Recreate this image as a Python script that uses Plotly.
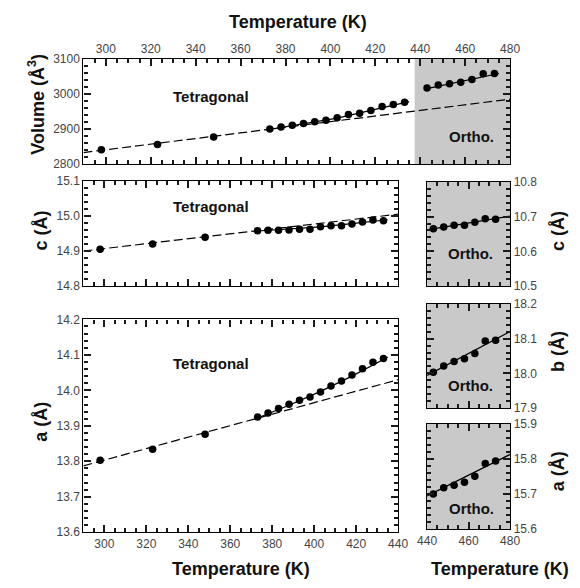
import plotly.graph_objects as go

# ---------------- data ----------------
T_tet = [298, 323, 348, 373, 378, 383, 388, 393, 398, 403, 408, 413, 418, 423, 428, 433]
V_tet = [2841, 2856, 2877, 2900, 2906, 2911, 2916, 2921, 2925, 2932, 2941, 2945, 2953, 2964, 2970, 2976]
c_tet = [14.905, 14.920, 14.939, 14.958, 14.959, 14.959, 14.960, 14.962, 14.962, 14.969,
         14.972, 14.972, 14.977, 14.983, 14.988, 14.986]
a_tet = [13.803, 13.834, 13.876, 13.925, 13.936, 13.949, 13.961, 13.972, 13.981, 13.995,
         14.012, 14.026, 14.043, 14.061, 14.079, 14.090]

T_ort = [443, 448, 453, 458, 463, 468, 473]
V_ort = [3017, 3025, 3029, 3033, 3041, 3057, 3058]
c_ort = [10.665, 10.670, 10.675, 10.675, 10.684, 10.694, 10.692]
b_ort = [18.003, 18.021, 18.034, 18.042, 18.057, 18.093, 18.095]
a_ort = [15.700, 15.718, 15.725, 15.734, 15.751, 15.787, 15.794]

# extrapolated (dashed) tetragonal fits
T_dash_V = [290, 480]
V_dash = [2833, 2985]
T_dash_tet = [290, 440]
c_dash = [14.900, 15.005]
a_dash = [13.787, 14.030]

# solid fits
T_fit_tet = [373, 388, 403, 418, 435]
V_fit_tet = [2899, 2915, 2931, 2953, 2978]
c_fit_tet = [14.957, 14.962, 14.969, 14.978, 14.989]
a_fit_tet = [13.922, 13.958, 13.997, 14.040, 14.093]
T_fit_Vort = [443, 475]
V_fit_ort = [3015, 3058]
T_fit_ort = [440, 480]
c_fit_ort = [10.662, 10.701]
b_fit_ort = [17.994, 18.120]
a_fit_ort = [15.695, 15.813]

ortho_T_range = [437.5, 480]

# ---------------- figure ----------------
W, H = 580, 588
FONT = "Liberation Sans, Arial, sans-serif"
GRAY = "#c9c9c9"

def px_x(a, b):
    return [a / W, b / W]

def px_y(top, bottom):
    return [1 - bottom / H, 1 - top / H]

fig = go.Figure()

mk = dict(color="black", size=7.5)
dash_line = dict(color="black", width=1.2, dash="9px,4px")
solid_line = dict(color="black", width=1.2)

def add(x, y, xa, ya, mode, line=None):
    fig.add_trace(go.Scatter(x=x, y=y, xaxis=xa, yaxis=ya, mode=mode,
                             marker=mk, line=line or solid_line,
                             showlegend=False, hoverinfo="skip"))

# top panel: volume
add(T_dash_V, V_dash, "x", "y", "lines", dash_line)
add(T_fit_tet, V_fit_tet, "x", "y", "lines")
add(T_tet, V_tet, "x", "y", "markers")
add(T_fit_Vort, V_fit_ort, "x", "y", "lines")
add(T_ort, V_ort, "x", "y", "markers")
# c tetragonal
add(T_dash_tet, c_dash, "x2", "y2", "lines", dash_line)
add(T_fit_tet, c_fit_tet, "x2", "y2", "lines")
add(T_tet, c_tet, "x2", "y2", "markers")
# a tetragonal
add(T_dash_tet, a_dash, "x3", "y3", "lines", dash_line)
add(T_fit_tet, a_fit_tet, "x3", "y3", "lines")
add(T_tet, a_tet, "x3", "y3", "markers")
# ortho c, b, a
add(T_fit_ort, c_fit_ort, "x4", "y4", "lines")
add(T_ort, c_ort, "x4", "y4", "markers")
add(T_fit_ort, b_fit_ort, "x5", "y5", "lines")
add(T_ort, b_ort, "x5", "y5", "markers")
add(T_fit_ort, a_fit_ort, "x6", "y6", "lines")
add(T_ort, a_ort, "x6", "y6", "markers")

tickfont = dict(family=FONT, size=12, color="#444")
TC = "#1a1a1a"

def xax(dom, rng, anchor, labels, side="bottom"):
    return dict(domain=dom, range=rng, anchor=anchor, side=side,
                dtick=20, tick0=300,
                ticks="inside", ticklen=7, tickwidth=1.5, tickcolor=TC,
                minor=dict(ticks="inside", ticklen=4, dtick=5, tickcolor=TC),
                showticklabels=labels, tickfont=tickfont,
                showline=True, linecolor="black", linewidth=1.3, mirror="ticks",
                showgrid=False, zeroline=False)

def yax(dom, rng, anchor, dt, mdt, fmt, side="left"):
    return dict(domain=dom, range=rng, anchor=anchor, side=side,
                dtick=dt, tickformat=fmt,
                ticks="inside", ticklen=7, tickwidth=1.5, tickcolor=TC,
                minor=dict(ticks="inside", ticklen=4, dtick=mdt, tickcolor=TC),
                tickfont=tickfont,
                showline=True, linecolor="black", linewidth=1.3, mirror="ticks",
                showgrid=False, zeroline=False)

XL = px_x(76, 518)
XM = px_x(76, 402)
XR = px_x(432, 518)

fig.update_layout(
    width=W, height=H, margin=dict(l=0, r=0, t=0, b=0),
    paper_bgcolor="white", plot_bgcolor="white",
    font=dict(family=FONT, color="black"),
    xaxis=xax(XL, [290, 480], "y", True, side="top"),
    yaxis=yax(px_y(53, 161), [2800, 3100], "x", 100, 20, "d"),
    xaxis2=xax(XM, [290, 440], "y2", False),
    yaxis2=yax(px_y(178, 286), [14.8, 15.1], "x2", 0.1, 0.02, ".1f"),
    xaxis3=xax(XM, [290, 440], "y3", True),
    yaxis3=yax(px_y(320, 538), [13.6, 14.2], "x3", 0.1, 0.02, ".1f"),
    xaxis4=xax(XR, [440, 480], "y4", False),
    yaxis4=yax(px_y(179, 286), [10.5, 10.8], "x4", 0.1, 0.02, ".1f", side="right"),
    xaxis5=xax(XR, [440, 480], "y5", False),
    yaxis5=yax(px_y(304, 411), [17.9, 18.2], "x5", 0.1, 0.02, ".1f", side="right"),
    xaxis6=xax(XR, [440, 480], "y6", True),
    yaxis6=yax(px_y(427, 535), [15.6, 15.9], "x6", 0.1, 0.02, ".1f", side="right"),
)

# gray ortho backgrounds
fig.add_shape(type="rect", xref="x", yref="y domain", x0=ortho_T_range[0], x1=ortho_T_range[1],
              y0=0, y1=1, fillcolor=GRAY, line_width=0, layer="below")
for k in ("x4", "x5", "x6"):
    yk = "y" + k[1:]
    fig.add_shape(type="rect", xref=k + " domain", yref=yk + " domain", x0=0, x1=1, y0=0, y1=1,
                  fillcolor=GRAY, line_width=0, layer="below")

def ann(text, x, y, size, angle=0):
    fig.add_annotation(text="<b>%s</b>" % text,
                       x=x / W, y=1 - y / H, xref="paper", yref="paper",
                       showarrow=False, textangle=angle,
                       font=dict(family=FONT, size=size, color="#111"),
                       xanchor="center", yanchor="middle")

ann("Temperature (K)", 298, 15, 18)
ann("Temperature (K)", 239, 576, 18)
ann("Temperature (K)", 507, 576, 18)
ann("Volume (Å<sup>3</sup>)", 28, 100, 18, -90)
ann("c (Å)", 32, 229, 18, -90)
ann("a (Å)", 32, 425, 18, -90)
ann("c (Å)", 567, 229, 18, -90)
ann("b (Å)", 567, 353, 18, -90)
ann("a (Å)", 567, 475, 18, -90)
ann("Tetragonal", 208, 92, 15)
ann("Tetragonal", 208, 204, 15)
ann("Tetragonal", 208, 365, 15)
ann("Ortho.", 478, 133, 15)
ann("Ortho.", 477, 252, 15)
ann("Ortho.", 477, 388, 15)
ann("Ortho.", 478, 514, 15)

fig.write_html("out.html", include_plotlyjs=True)
